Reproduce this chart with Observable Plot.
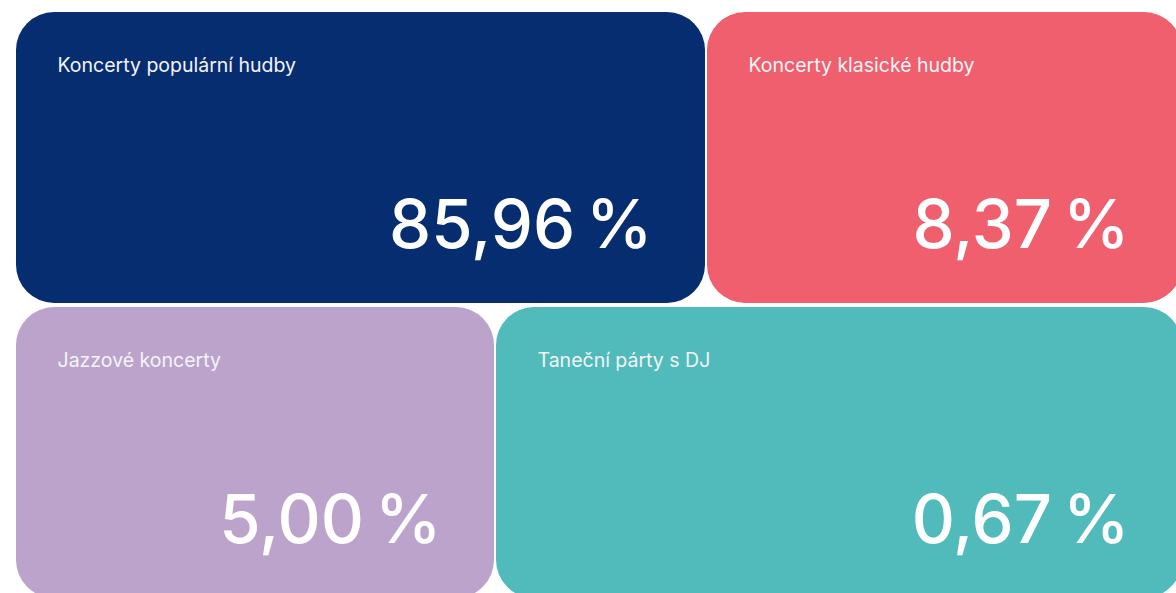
<!DOCTYPE html>
<html>
<head>
<meta charset="utf-8">
<script src="https://cdn.jsdelivr.net/npm/d3@7"></script>
<script src="https://cdn.jsdelivr.net/npm/@observablehq/plot@0.6"></script>
<style>
  html, body { margin: 0; padding: 0; background: #ffffff; overflow: hidden; }
  #chart svg { display: block; }
  #chart g[font-size="67"] text { word-spacing: -7px; }
</style>
</head>
<body>
<div id="chart"></div>
<script>
// ---- data ----
const categories = ["Koncerty populární hudby", "Koncerty klasické hudby", "Jazzové koncerty", "Taneční párty s DJ"];
const shares = [85.96, 8.37, 5.00, 0.67];
const colors = ["#072d71", "#ef5f6e", "#bca3cc", "#50bbba"];

// ---- tile layout (two rows, each split into a wide and a narrow tile) ----
const W = 1176, H = 593;
const left = 16, right = 1182, gap = 2;
const rowTops = [12, 307], rowHeight = 291;
const rowSplits = [706, 495];           // x where each row is divided
const tileRow = [0, 0, 1, 1];
const tileSide = [0, 1, 0, 1];          // 0 = left tile, 1 = right tile

const tiles = categories.map((name, i) => {
  const r = tileRow[i], s = tileSide[i];
  const x1 = s === 0 ? left : rowSplits[r] + gap / 2;
  const x2 = s === 0 ? rowSplits[r] - gap / 2 : right;
  const y1 = rowTops[r], y2 = rowTops[r] + rowHeight;
  return {name, value: shares[i], color: colors[i], x1, x2, y1, y2};
});

const fmt = v => v.toFixed(2).replace(".", ",") + " %";

const chart = Plot.plot({
  width: W,
  height: H,
  margin: 0,
  x: {domain: [0, W], range: [0, W], axis: null},
  y: {domain: [0, H], range: [0, H], axis: null},
  style: {fontFamily: "Inter, 'Noto Sans', sans-serif", background: "transparent"},
  marks: [
    Plot.rect(tiles, {x1: "x1", x2: "x2", y1: "y1", y2: "y2", fill: d => d.color, rx: 38}),
    Plot.text(tiles, {
      x: "x1", y: "y1", text: "name",
      dx: 41, dy: 59,
      textAnchor: "start", lineAnchor: "bottom",
      fill: "#f4f4f8", fontSize: 19.5
    }),
    Plot.text(tiles, {
      x: "x2", y: "y1", text: d => fmt(d.value),
      dx: -53, dy: 235,
      textAnchor: "end", lineAnchor: "bottom",
      fill: "#ffffff", fontSize: 67, fontWeight: 500
    })
  ]
});
document.getElementById("chart").appendChild(chart);
</script>
</body>
</html>
